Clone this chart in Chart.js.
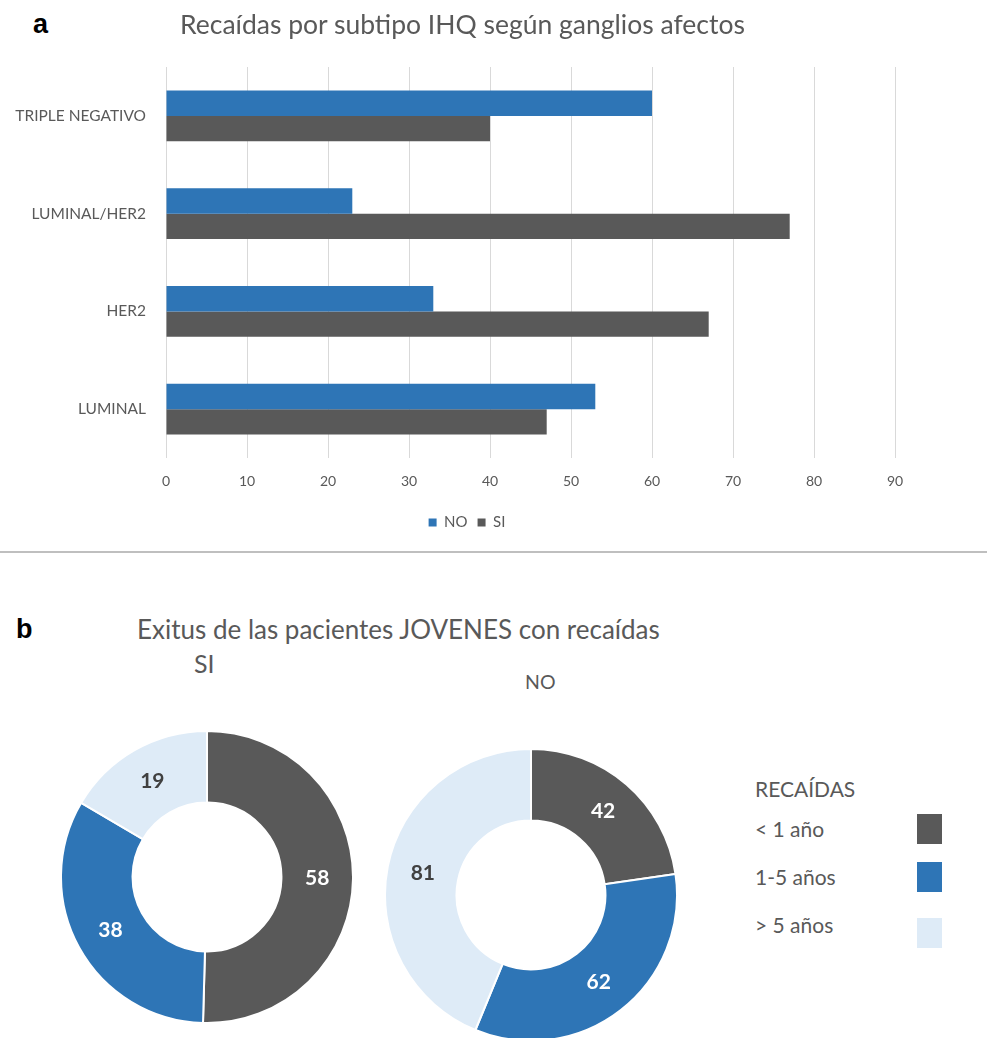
<!DOCTYPE html>
<html>
<head>
<meta charset="utf-8">
<script src="https://cdn.jsdelivr.net/npm/chart.js@4"></script>
<style>
  html, body { margin: 0; padding: 0; background: #fff; }
  #page { position: relative; width: 987px; height: 1038px; overflow: hidden; background: #fff; font-family: Lato, "Open Sans", sans-serif; }
  .panel { position: absolute; font-family: "Liberation Sans", Arial, sans-serif; font-weight: bold; font-size: 27px; color: #000; }
  .txt { position: absolute; color: #595959; white-space: nowrap; line-height: 1.2; }
  #sep { position: absolute; left: 0; top: 551px; width: 987px; height: 2px; background: #BFBFBF; }
  .sw { position: absolute; width: 25px; height: 30px; }
</style>
</head>
<body>
<div id="page">
  <div class="panel" style="left:33px; top:9px;">a</div>
  <div style="position:absolute; left:0; top:0; width:930px; height:550px;"><canvas id="bar"></canvas></div>
  <div class="txt" id="t1" style="left:180px; top:9px; font-size:26.5px;"></div>
  <div id="sep"></div>

  <div class="panel" style="left:16px; top:614px;">b</div>
  <div class="txt" style="left:137px; top:614px; font-size:26px;">Exitus de las pacientes JOVENES con recaídas</div>
  <div class="txt" style="left:194px; top:648px; font-size:25px;">SI</div>
  <div class="txt" style="left:525px; top:670px; font-size:19.5px;">NO</div>

  <div style="position:absolute; left:60px; top:730px; width:294px; height:294px;"><canvas id="d1"></canvas></div>
  <div style="position:absolute; left:384px; top:748px; width:294px; height:294px;"><canvas id="d2"></canvas></div>

  <div id="leg"></div>
</div>
<script>
// ---- Data ----
const barCategories = ['TRIPLE NEGATIVO', 'LUMINAL/HER2', 'HER2', 'LUMINAL'];
const barSeriesNames = ['NO', 'SI'];
const barNO = [60, 23, 33, 53];
const barSI = [40, 77, 67, 47];
const xTicks = [0, 10, 20, 30, 40, 50, 60, 70, 80, 90];

const donutCategories = ['< 1 año', '1-5 años', '> 5 años'];
const donutSI = [58, 38, 19];
const donutNO = [42, 62, 81];
const donutLegendTitle = 'RECAÍDAS';

const barTitle = 'Recaídas por subtipo IHQ según ganglios afectos';
document.getElementById('t1').textContent = barTitle;

// ---- Styles ----
const BLUE = '#2E75B6', DARK = '#595959', LIGHT = '#DEEBF7';
const FONT = 'Lato, "Open Sans", sans-serif';

// let the category labels extend left of the (narrowed) y-axis box without clipping
const widenYLabels = {
  id: 'widenYLabels',
  afterLayout(chart) { chart.scales.y.left = 0; }
};

new Chart(document.getElementById('bar'), {
  type: 'bar',
  data: {
    labels: barCategories,
    datasets: [
      { label: barSeriesNames[0], data: barNO, backgroundColor: BLUE, categoryPercentage: 0.52, barPercentage: 1.0 },
      { label: barSeriesNames[1], data: barSI, backgroundColor: DARK, categoryPercentage: 0.52, barPercentage: 1.0 }
    ]
  },
  options: {
    indexAxis: 'y',
    responsive: true,
    maintainAspectRatio: false,
    animation: false,
    layout: { padding: { left: 39, right: 35, top: 67, bottom: 10 } },
    plugins: {
      title: { display: false },
      legend: {
        position: 'bottom',
        labels: { color: '#595959', boxWidth: 8, boxHeight: 8, padding: 10, font: { family: FONT, size: 15 } }
      },
      tooltip: { enabled: false }
    },
    scales: {
      x: {
        min: 0, max: 90,
        afterBuildTicks: (axis) => { axis.ticks = xTicks.map(v => ({ value: v })); },
        afterFit: (axis) => { axis.height = 47; },
        grid: { color: '#D9D9D9', lineWidth: 1, drawTicks: false },
        border: { display: false },
        ticks: { color: '#595959', padding: 15, font: { family: FONT, size: 14 } }
      },
      y: {
        afterFit: (axis) => { axis.width = 127; },
        grid: { display: false, drawTicks: false },
        border: { display: false },
        ticks: { color: '#595959', padding: 20, font: { family: FONT, size: 15.5 } }
      }
    }
  },
  plugins: [widenYLabels]
});

const donutLabelColors = ['#FFFFFF', '#FFFFFF', '#404040'];
const donutLabels = {
  id: 'donutLabels',
  afterDatasetsDraw(chart) {
    const ctx = chart.ctx;
    const meta = chart.getDatasetMeta(0);
    const data = chart.data.datasets[0].data;
    meta.data.forEach((arc, i) => {
      const p = arc.tooltipPosition();
      ctx.save();
      ctx.fillStyle = donutLabelColors[i];
      ctx.font = 'bold 21px ' + FONT;
      ctx.textAlign = 'center';
      ctx.textBaseline = 'middle';
      ctx.fillText(String(data[i]), p.x, p.y);
      ctx.restore();
    });
  }
};

function makeDonut(id, values) {
  new Chart(document.getElementById(id), {
    type: 'doughnut',
    data: {
      labels: donutCategories,
      datasets: [{ data: values, backgroundColor: [DARK, BLUE, LIGHT], borderColor: '#FFFFFF', borderWidth: 2 }]
    },
    options: {
      responsive: true, maintainAspectRatio: false, animation: false,
      cutout: '51%',
      layout: { padding: 0 },
      plugins: { legend: { display: false }, tooltip: { enabled: false } }
    },
    plugins: [donutLabels]
  });
}
makeDonut('d1', donutSI);
makeDonut('d2', donutNO);

// Donut legend (text + swatches)
const leg = document.getElementById('leg');
const legColors = [DARK, BLUE, LIGHT];
const legTextTops = [816, 864, 912];
const legSwTops = [814, 862, 918];
const t = document.createElement('div');
t.className = 'txt'; t.style.left = '755px'; t.style.top = '776px'; t.style.fontSize = '21px';
t.textContent = donutLegendTitle; leg.appendChild(t);
donutCategories.forEach((c, i) => {
  const d = document.createElement('div');
  d.className = 'txt'; d.style.left = '755px'; d.style.top = legTextTops[i] + 'px'; d.style.fontSize = '21px';
  d.textContent = c; leg.appendChild(d);
  const s = document.createElement('div');
  s.className = 'sw'; s.style.left = '917px'; s.style.top = legSwTops[i] + 'px'; s.style.background = legColors[i];
  leg.appendChild(s);
});
</script>
</body>
</html>
